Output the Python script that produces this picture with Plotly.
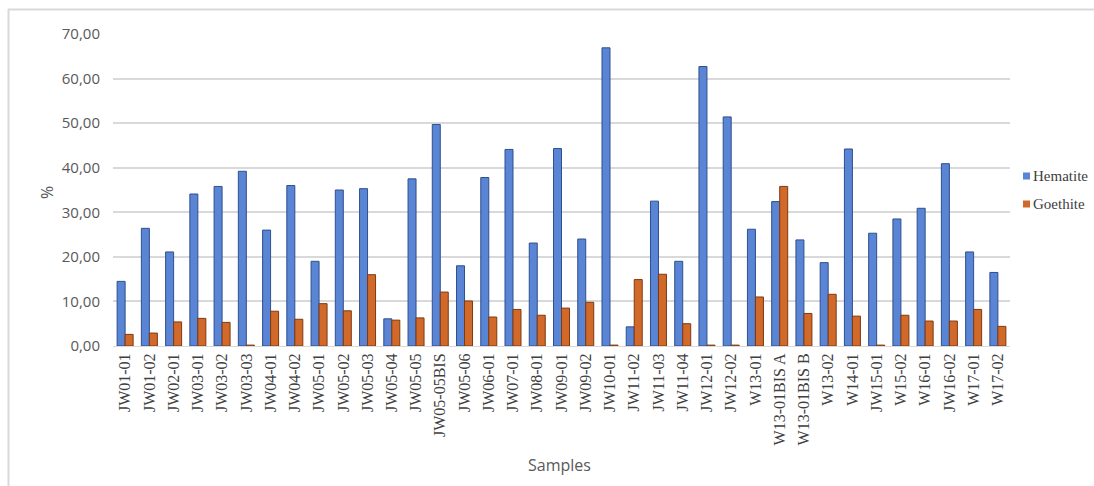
import plotly.graph_objects as go

# Sample identifiers along the x axis
samples = [
    "JW01-01", "JW01-02", "JW02-01", "JW03-01", "JW03-02", "JW03-03",
    "JW04-01", "JW04-02", "JW05-01", "JW05-02", "JW05-03", "JW05-04",
    "JW05-05", "JW05-05BIS", "JW05-06", "JW06-01", "JW07-01", "JW08-01",
    "JW09-01", "JW09-02", "JW10-01", "JW11-02", "JW11-03", "JW11-04",
    "JW12-01", "JW12-02", "W13-01", "W13-01BIS A", "W13-01BIS B", "W13-02",
    "W14-01", "JW15-01", "W15-02", "W16-01", "JW16-02", "W17-01", "W17-02",
]

# Mineral content (%) per sample
hematite = [
    14.5, 26.4, 21.1, 34.1, 35.8, 39.2,
    26.0, 36.0, 19.0, 35.0, 35.3, 6.1,
    37.5, 49.7, 18.0, 37.8, 44.1, 23.1,
    44.3, 24.0, 66.9, 4.3, 32.5, 19.0,
    62.7, 51.4, 26.2, 32.4, 23.8, 18.7,
    44.2, 25.3, 28.5, 30.9, 40.9, 21.1, 16.5,
]
goethite = [
    2.6, 2.9, 5.4, 6.2, 5.3, 0.2,
    7.8, 6.0, 9.5, 7.9, 16.0, 5.8,
    6.3, 12.1, 10.1, 6.5, 8.2, 6.9,
    8.5, 9.8, 0.2, 14.9, 16.1, 5.0,
    0.2, 0.2, 11.0, 35.8, 7.3, 11.6,
    6.7, 0.2, 6.9, 5.6, 5.6, 8.2, 4.4,
]

series_names = ["Hematite", "Goethite"]
fill_colors = ["#5A84D4", "#D0692A"]
edge_colors = ["#2F4F8F", "#7E3A10"]

y_ticks = [0, 10, 20, 30, 40, 50, 60, 70]

fig = go.Figure()
for name, vals, fc, ec in zip(series_names, [hematite, goethite], fill_colors, edge_colors):
    fig.add_trace(go.Bar(
        x=samples, y=vals, name=name,
        marker=dict(color=fc, line=dict(color=ec, width=1)),
    ))

# plot area in pixels: x 113..1010, y 34..346
L, R, T, B = 113, 84, 34, 140
W, H = 1094, 486
pw, ph = W - L - R, H - T - B


def px(x):
    return (x - L) / pw


def py(y):
    return (H - B - y) / ph


# legend drawn by hand: small square keys with serif labels
legend_shapes = []
legend_notes = []
for i, (name, fc) in enumerate(zip(series_names, fill_colors)):
    cy = 176 + 28 * i
    legend_shapes.append(dict(
        type="rect", xref="paper", yref="paper",
        x0=px(1023), x1=px(1030), y0=py(cy + 3.5), y1=py(cy - 3.5),
        fillcolor=fc, line=dict(width=0),
    ))
    legend_notes.append(dict(
        text=name, x=px(1031), y=py(cy), xref="paper", yref="paper",
        xanchor="left", yanchor="middle", showarrow=False,
        font=dict(family="Liberation Serif", size=15, color="#404040"),
    ))

fig.update_layout(
    width=W, height=H,
    margin=dict(l=L, r=R, t=T, b=B),
    paper_bgcolor="white", plot_bgcolor="white",
    barmode="group", bargap=0.34, bargroupgap=0,
    separators=", ",
    showlegend=False,
    xaxis=dict(
        tickangle=-90,
        tickfont=dict(family="Liberation Serif", size=16, color="#404040"),
        showgrid=False, showline=True, linecolor="#D9D9D9", linewidth=1,
        ticks="", ticklen=0,
    ),
    yaxis=dict(
        range=[0, 70], tickvals=y_ticks, tickformat=".2f",
        tickfont=dict(family="Open Sans", size=15, color="#595959"),
        showgrid=True, gridcolor="#D9D9D9", gridwidth=1.5,
        zeroline=False, showline=False, ticks="",
        ticklabelstandoff=12,
    ),
    annotations=[
        dict(text="%", x=px(47), y=py(193), xref="paper", yref="paper",
             xanchor="center", yanchor="middle",
             showarrow=False, textangle=-90,
             font=dict(family="Open Sans", size=16, color="#595959")),
        dict(text="Samples", x=px(559), y=py(465), xref="paper", yref="paper",
             xanchor="center", yanchor="middle",
             showarrow=False,
             font=dict(family="Open Sans", size=16, color="#595959")),
    ] + legend_notes,
    shapes=[
        dict(type="line", xref="paper", yref="paper",
             x0=px(8), x1=px(1094), y0=py(9.5), y1=py(9.5),
             line=dict(color="#D9D9D9", width=2)),
        dict(type="line", xref="paper", yref="paper",
             x0=px(8.5), x1=px(8.5), y0=py(9), y1=py(486),
             line=dict(color="#D9D9D9", width=2)),
    ] + legend_shapes,
)

fig.write_html("out.html")
